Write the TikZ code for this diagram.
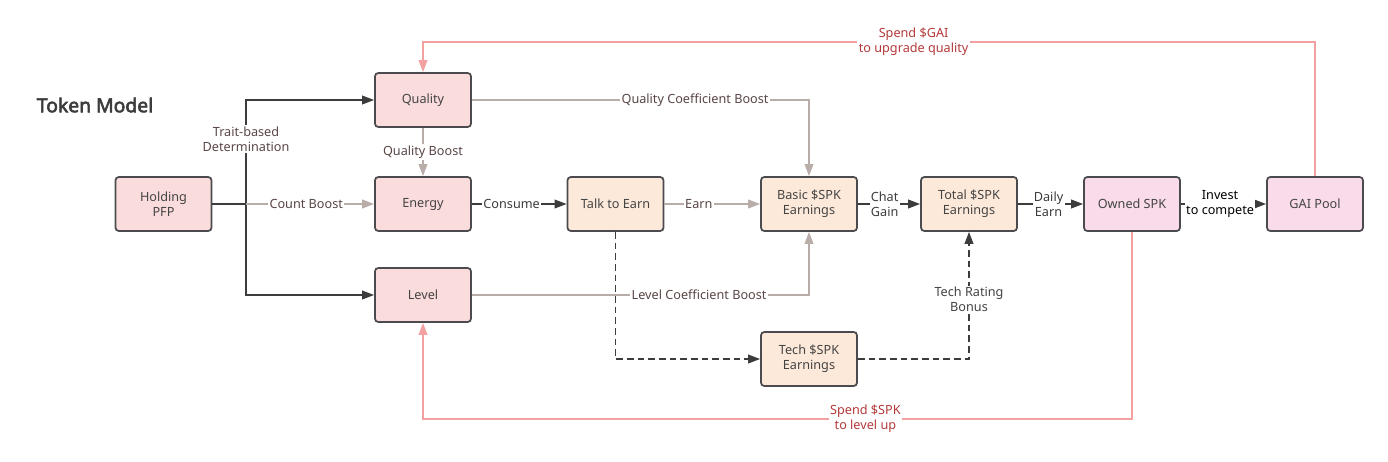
\documentclass[tikz,border=0pt]{standalone}
\usepackage{fontspec}
\setmainfont{Noto Sans}
\newfontfamily\titlefont{Noto Sans}[FakeBold=3]
\usetikzlibrary{arrows.meta}
\definecolor{boxline}{HTML}{4A4A4F}
\definecolor{rosefill}{HTML}{F9DCDB}
\definecolor{peachfill}{HTML}{FCE9DA}
\definecolor{lilacfill}{HTML}{F9DBEA}
\definecolor{darkline}{HTML}{3C3C3C}
\definecolor{greyline}{HTML}{B9ADA9}
\definecolor{pinkline}{HTML}{F2A0A0}
\definecolor{labeltext}{HTML}{5A4646}
\definecolor{spendtext}{HTML}{B53A3A}
\definecolor{nodetext}{HTML}{444444}

\begin{document}
\begin{tikzpicture}[x=0.75pt,y=-0.75pt,
    font=\fontsize{9.5}{11.5}\selectfont,
    card/.style ={draw=boxline, line width=1.3pt, rounded corners=2.5pt,
      minimum width=72pt, minimum height=40.5pt, align=center, text=nodetext},
    rose/.style ={card, fill=rosefill},
    peach/.style ={card, fill=peachfill},
    lilac/.style ={card, fill=lilacfill},
    strong/.style ={draw=darkline, line width=1.2pt, -{Triangle[length=9pt,width=6.5pt]}},
    soft/.style ={draw=greyline, line width=1.2pt, -{Triangle[length=9pt,width=6.5pt]}},
    spend/.style ={draw=pinkline, line width=1.1pt, -{Triangle[length=9pt,width=6.5pt]}},
    tag/.style ={fill=white, inner sep=1pt, align=center, text=labeltext},
    darktag/.style ={tag, text=darkline},
    spendtag/.style ={tag, text=spendtext}]
   \useasboundingbox (0,0) rectangle (1388,461);

   \node[font=\fontsize{14.5}{16}\titlefont, text=darkline] (title) at (95,105) {Token Model};

   \node[rose] (P) at (163.5,204) {Holding\\PFP};
   \node[rose] (Q) at (423,100) {Quality};
   \node[rose] (E) at (423,204) {Energy};
   \node[rose] (L) at (423,295) {Level};
   \node[peach] (T) at (615.5,204) {Talk to Earn};
   \node[peach] (B) at (809,204) {Basic \$SPK\\Earnings};
   \node[peach] (S) at (969,204) {Total \$SPK\\Earnings};
   \node[peach] (X) at (809,359) {Tech \$SPK\\Earnings};
   \node[lilac] (O) at (1132,204) {Owned SPK};
   \node[lilac] (G) at (1315,204) {GAI Pool};

   \coordinate (fork) at (246,204);
   \coordinate (upper) at (0,42);
   \coordinate (lower) at (0,419);

   % holding splits three ways
   \draw[darkline, line width=1.2pt] (P) -- (fork);
   \draw[strong] (fork) |- (Q);
   \draw[strong] (fork) |- (L);
   \node[darktag, text=labeltext] (trait) at (246,139) {Trait-based\\Determination};
   \draw[soft] (fork) -- node[tag, pos=0.47] {Count Boost} (E);
   \draw[soft] (Q) -- node[tag] {Quality Boost} (E);

   % earning chain
   \draw[strong] (E) -- node[darktag, pos=0.42] {Consume} (T);
   \draw[soft] (T) -- node[tag, pos=0.36] {Earn} (B);
   \draw[strong] (B) -- node[darktag, pos=0.43] {Chat\\Gain} (S);
   \draw[strong] (S) -- node[darktag, pos=0.47] {Daily\\Earn} (O);
   \draw[strong] (O) -- node[darktag, pos=0.46, text=black] {Invest\\to compete} (G);

   \draw[soft] (Q) -| node[tag, pos=0.331] {Quality Coefficient Boost} (B);
   \draw[soft] (L) -| node[tag, pos=0.337] {Level Coefficient Boost} (B);

   % tech bonus
   \draw[strong, dash pattern=on 5pt off 3pt] (T) |- (X);
   \draw[strong, dash pattern=on 5pt off 3pt] (X) -| node[darktag, pos=0.734, text=nodetext] {Tech Rating\\Bonus} (S);

   % spending loops
   \draw[spend] (G.north) -- (G.north |- upper) -| node[spendtag, pos=0.225] {Spend \$GAI\\to upgrade quality} (Q.north);
   \draw[spend] (O.south) -- (O.south |- lower) -| node[spendtag, pos=0.188] {Spend \$SPK\\to level up} (L.south);
 \end{tikzpicture}
\end{document}
